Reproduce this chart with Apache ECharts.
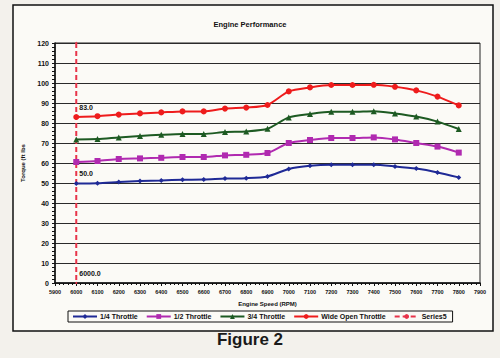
<!DOCTYPE html>
<html><head><meta charset="utf-8">
<script src="https://cdn.jsdelivr.net/npm/echarts@6/dist/echarts.min.js"></script>
<style>html,body{margin:0;padding:0;background:#f3f1ec;}#c{width:500px;height:358px;}</style>
</head><body><div id="c"></div>
<script>
const rpm = [6000,6100,6200,6300,6400,6500,6600,6700,6800,6900,7000,7100,7200,7300,7400,7500,7600,7700,7800];
const quarter = [49.8,49.9,50.5,51,51.3,51.6,51.7,52.2,52.4,53.3,57,58.6,59.1,59.1,59.1,58.3,57.2,55.3,52.8];
const half    = [60.5,61,62,62.3,62.6,63,63,63.8,64.1,65,70,71.5,72.5,72.5,72.8,71.8,70,68.2,65.2];
const threeQ  = [71.8,72,72.8,73.5,74.1,74.5,74.5,75.5,75.8,77.1,82.8,84.5,85.6,85.6,85.9,84.8,83.2,80.7,77];
const wot     = [83,83.4,84.2,84.8,85.3,85.8,85.8,87.2,87.7,89,95.8,97.8,99,99,99.1,98.1,96.3,93.2,88.8];
const series5X = [6000,6000,6000,6000];
const series5Y = [120,83,50,0];
const seriesNames = ['1/4 Throttle','1/2 Throttle','3/4 Throttle','Wide Open Throttle','Series5'];
const xTicks = {min:5900,max:7900,interval:100};
const yTicks = {min:0,max:120,interval:10};

const ff = 'Liberation Sans, Arial, sans-serif';
function pairs(xs, ys){ return xs.map((x,i)=>[x,ys[i]]); }
const chart = echarts.init(document.getElementById('c'), null, {renderer:'svg'});
const mk = (name, data, color, symbol, size) => ({
  name, type:'line', data:pairs(rpm,data), smooth:0.25, symbol, symbolSize:size,
  lineStyle:{color, width:2}, itemStyle:{color}, z:3
});
const s5data = series5X.map((x,i)=>{
  const y = series5Y[i];
  const show = y !== series5Y[0];
  return {value:[x,y], label:{show:show, position:[4,-12], fontFamily:ff, fontSize:7, fontWeight:'bold', color:'#111',
    formatter: p => (p.value[1]===0 ? p.value[0] : p.value[1]).toFixed(1)}};
});
chart.setOption({
  backgroundColor:'#f3f1ec',
  animation:false,
  graphic:[
    {type:'rect', shape:{x:13,y:5,width:480,height:326}, style:{fill:'#fbfaf6', stroke:'#111', lineWidth:1.5}, z:-10},
    {type:'text', left:'center', top:331, style:{text:'Figure 2', font:'bold 17px '+ff, fill:'#1a1a1a'}}
  ],
  title:{text:'Engine Performance', left:'center', top:15, textStyle:{fontFamily:ff, fontSize:7.5, fontWeight:'bold', color:'#111'}},
  grid:{left:55, right:20, top:43, bottom:75, show:true, borderColor:'#222', borderWidth:1, backgroundColor:'transparent'},
  legend:{
    data:seriesNames, bottom:36, left:68, itemGap:8, itemWidth:24, itemHeight:6,
    borderColor:'#111', borderWidth:1, padding:[2,6,2,4],
    textStyle:{fontFamily:ff, fontSize:7, fontWeight:'bold', color:'#111', padding:[0,0,0,-2]}
  },
  xAxis:{
    type:'value', min:xTicks.min, max:xTicks.max, interval:xTicks.interval,
    name:'Engine Speed (RPM)', nameLocation:'middle', nameGap:18,
    nameTextStyle:{fontFamily:ff, fontSize:6, fontWeight:'bold', color:'#111'},
    axisLine:{lineStyle:{color:'#111', width:1.5}},
    axisTick:{show:true, length:3, lineStyle:{color:'#111'}},
    minorTick:{show:true, splitNumber:5, length:2, lineStyle:{color:'#111'}},
    axisLabel:{fontFamily:ff, fontSize:5.5, fontWeight:'bold', color:'#111', margin:6, formatter:v=>String(v)},
    splitLine:{show:false}
  },
  yAxis:{
    type:'value', min:yTicks.min, max:yTicks.max, interval:yTicks.interval,
    name:'Torque (ft lbs', nameLocation:'middle', nameGap:27,
    nameTextStyle:{fontFamily:ff, fontSize:6, fontWeight:'bold', color:'#111'},
    axisLine:{show:true, lineStyle:{color:'#111', width:1.5}},
    axisTick:{show:true, length:3, lineStyle:{color:'#111'}},
    minorTick:{show:true, splitNumber:5, length:3, lineStyle:{color:'#111'}},
    axisLabel:{fontFamily:ff, fontSize:7, fontWeight:'bold', color:'#111', margin:6},
    splitLine:{show:true, lineStyle:{color:'#2a2a2a', width:1.2}}
  },
  series:[
    mk(seriesNames[0], quarter, '#1f2a96', 'diamond', 5),
    mk(seriesNames[1], half, '#b02ab0', 'rect', 6),
    mk(seriesNames[2], threeQ, '#1d5a22', 'triangle', 6),
    mk(seriesNames[3], wot, '#ee1c1c', 'circle', 6),
    {name:seriesNames[4], type:'line', data:s5data, symbol:'circle', symbolSize:2, showSymbol:true, showAllSymbol:true, z:2, zlevel:0,
     labelLayout:{hideOverlap:false},
     lineStyle:{color:'#e8344a', width:2, type:[5,3]}, itemStyle:{color:'#e8344a'}}
  ]
});
</script></body></html>
